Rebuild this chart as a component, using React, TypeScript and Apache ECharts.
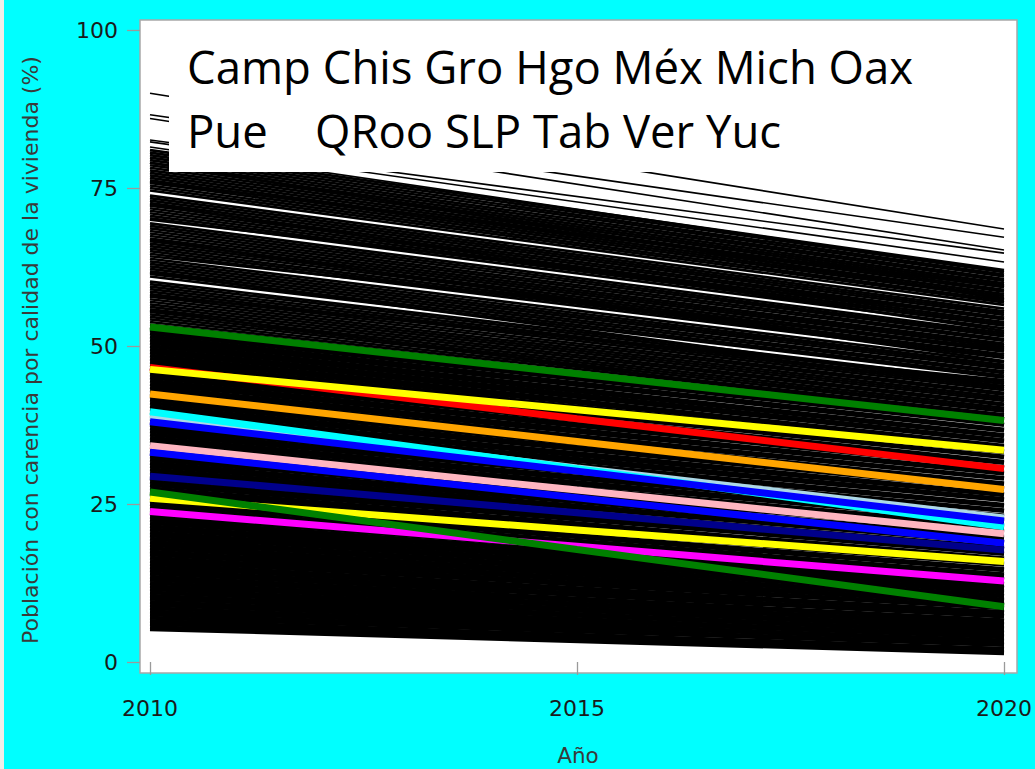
import React, { useEffect, useRef } from "react";
import * as echarts from "echarts";

// ---------- data ----------
const years = [2010, 2015, 2020];
const yTicks = [0, 25, 50, 75, 100];

// highlighted states (thick coloured lines), values at 2010, 2015, 2020
const stateNames = ["Oax", "Pue", "Chis", "Gro", "Hgo", "Ver", "SLP", "Mich", "Tab", "Méx", "Yuc", "Camp", "QRoo"];
const stateColors = ["#008000", "#ffa500", "#ff0000", "#ffff00", "#add8e6", "#00ffff", "#0000ff", "#ffb6c1", "#0000ff", "#00008b", "#ffff00", "#ff00ff", "#008000"];
const stateValues: number[][] = [
  [53.0, 45.6, 38.2],
  [42.4, 34.9, 27.3],
  [46.6, 38.5, 30.6],
  [46.3, 39.9, 33.5],
  [38.9, 30.7, 22.8],
  [39.6, 30.6, 21.4],
  [38.0, 30.2, 22.3],
  [34.2, 27.2, 20.3],
  [33.2, 26.0, 18.8],
  [29.4, 23.6, 17.7],
  [25.9, 20.9, 15.9],
  [23.8, 18.3, 12.8],
  [26.9, 17.8, 8.75],
];

// municipalities (thin black lines), value in 2010 and in 2020
const sparseStart = [90.0, 86.6, 86.0, 82.6, 82.3, 81.5];
const sparseEnd = [68.5, 67.2, 65.2, 64.7, 63.3, 61.8];

const upperStart = [
  81.0, 80.6, 80.2, 79.8, 79.4, 79.0, 78.6, 78.2, 77.8, 77.4, 77.0, 76.6, 76.2, 75.8, 75.4, 75.0, 74.6,
  73.8, 73.4, 73.0, 72.6, 72.2, 71.8, 71.4, 71.0, 70.6, 70.2,
  69.4, 69.0, 68.6, 68.2, 67.8, 67.4, 67.0, 66.6, 66.2, 65.8, 65.4, 65.0, 64.6,
  63.8, 63.4, 63.0, 62.6, 62.2, 61.8, 61.4, 61.0,
  60.2, 59.8, 59.4, 59.0, 58.6, 58.2, 57.8, 57.4, 57.0, 56.6, 56.2, 55.8, 55.4, 55.0, 54.6, 54.2, 53.8, 53.4,
];
const upperEnd = [
  62.0, 61.7, 61.3, 61.0, 60.6, 60.3, 59.9, 59.6, 59.3, 58.9, 58.6, 58.2, 57.9, 57.6, 57.2, 56.9, 56.5,
  55.9, 55.5, 55.2, 54.9, 54.5, 54.2, 53.8, 53.5, 53.2, 52.8,
  52.1, 51.8, 51.5, 51.1, 50.8, 50.4, 50.1, 49.8, 49.4, 49.1, 48.7, 48.4, 48.1,
  47.4, 47.0, 46.7, 46.4, 46.0, 45.7, 45.3, 45.0,
  44.3, 44.0, 43.6, 43.3, 43.0, 42.6, 42.3, 41.9, 41.6, 41.3, 40.9, 40.6, 40.2, 39.9, 39.6, 39.2, 38.9, 38.5,
];

const crossStart = [79.0, 76.0, 72.4, 70.0, 66.8, 64.2, 61.6, 58.0, 55.6];
const crossEnd = [57.4, 59.4, 52.4, 54.4, 47.6, 49.6, 43.6, 44.6, 38.2];

const middleStart = [
  53.0, 52.5, 52.0, 51.5, 51.0, 50.5, 50.0, 49.5, 49.0, 48.5, 48.0, 47.5, 47.0, 46.5, 46.0, 45.5, 45.0, 44.5, 44.0, 43.5,
  43.0, 42.5, 42.0, 41.5, 41.0, 40.5, 40.0, 39.5, 39.0, 38.5, 38.0, 37.5, 37.0, 36.5, 36.0, 35.5, 35.0, 34.5, 34.0, 33.5,
  33.0, 32.5, 32.0, 31.5, 31.0, 30.5, 30.0, 29.5, 29.0, 28.5, 28.0, 27.5, 27.0, 26.5, 26.0, 25.5, 25.0, 24.5,
];
const middleEnd = [
  38.4, 37.6, 37.5, 36.8, 36.6, 35.9, 35.7, 35.1, 34.9, 34.2, 34.0, 33.4, 33.2, 32.5, 32.4, 31.7, 31.5, 30.8, 30.7, 30.0,
  29.8, 29.1, 29.0, 28.3, 28.1, 27.5, 27.3, 26.6, 26.4, 25.8, 25.6, 24.9, 24.7, 24.0, 23.9, 23.2, 23.0, 22.4, 22.2, 21.5,
  21.3, 20.7, 20.5, 19.8, 19.6, 19.0, 18.8, 18.1, 17.9, 17.3, 17.1, 16.4, 16.2, 15.6, 15.4, 14.7, 14.5, 13.9,
];

const lowerStart = [
  24.0, 23.5, 23.0, 22.5, 22.0, 21.5, 21.0, 20.5, 20.0, 19.5, 19.0, 18.5, 18.0, 17.5, 17.0, 16.5, 16.0, 15.5, 15.0, 14.5,
  14.0, 13.5, 13.0, 12.5, 12.0, 11.5, 11.0, 10.5, 10.0, 9.5, 9.0, 8.5, 8.0, 7.5, 7.0, 6.5, 6.0, 5.5, 5.2,
];
const lowerEnd = [
  13.6, 13.1, 13.0, 12.4, 12.3, 11.8, 11.7, 11.2, 11.0, 10.5, 10.4, 9.9, 9.7, 9.2, 9.1, 8.6, 8.5, 7.9, 7.8, 7.3,
  7.2, 6.6, 6.5, 6.0, 5.9, 5.4, 5.2, 4.7, 4.6, 4.1, 3.9, 3.4, 3.3, 2.8, 2.7, 2.1, 2.0, 1.6, 1.4,
];

const legendLine1 = "Camp Chis Gro Hgo Méx Mich Oax";
const legendLine2a = "Pue";
const legendLine2b = "QRoo SLP Tab Ver Yuc";
const xName = "Año";
const yName = "Población con carencia por calidad de la vivienda (%)";

function pairs(a: number[], b: number[]) {
  const n = Math.min(a.length, b.length);
  const out: { coords: number[][] }[] = [];
  for (let i = 0; i < n; i++) out.push({ coords: [[years[0], a[i]], [years[2], b[i]]] });
  return out;
}

export default function App() {
  const ref = useRef<HTMLDivElement>(null);
  useEffect(() => {
    if (!ref.current) return;
    const chart = echarts.init(ref.current, undefined, { renderer: "svg" });
    const upperData = [...pairs(upperStart, upperEnd), ...pairs(crossStart, crossEnd)];
    const solidData = [...pairs(middleStart, middleEnd), ...pairs(lowerStart, lowerEnd)];
    const tickStyle = { color: "#9a9a9a", width: 1.3 };
    const labelFont = { fontSize: 22, fontFamily: "DejaVu Sans", color: "#1a1a1a" };
    chart.setOption({
      animation: false,
      backgroundColor: "#00ffff",
      grid: { left: 150, right: 30, top: 30, bottom: 107, containLabel: false },
      xAxis: {
        type: "value",
        min: 2010,
        max: 2020,
        interval: 5,
        offset: 11,
        axisLine: { show: false },
        axisTick: { show: true, length: 13, lineStyle: tickStyle },
        axisLabel: { ...labelFont, margin: 24, showMaxLabel: true, showMinLabel: true, formatter: (v: number) => String(v) },
        splitLine: { show: false },
      },
      yAxis: {
        type: "value",
        min: 0,
        max: 100,
        interval: 25,
        offset: 10,
        axisLine: { show: false },
        axisTick: { show: true, length: 13, lineStyle: tickStyle },
        axisLabel: { ...labelFont, margin: 22, formatter: (v: number) => (yTicks.includes(v) ? String(v) : "") },
        splitLine: { show: false },
      },
      graphic: [
        { type: "rect", z: -10, silent: true, shape: { x: 0, y: 0, width: 4, height: 769 }, style: { fill: "#f1eee8" } },
        {
          type: "rect", z: -10, silent: true,
          shape: { x: 140, y: 20, width: 877, height: 653 },
          style: { fill: "#ffffff", stroke: "#a8a8a8", lineWidth: 1.5 },
        },
        { type: "rect", z: 100, silent: true, shape: { x: 169, y: 21, width: 847, height: 151 }, style: { fill: "#ffffff" } },
        {
          type: "text", z: 101, x: 187, y: 66,
          style: { text: legendLine1, fontSize: 45.5, fontFamily: "Open Sans", fill: "#000", align: "left", verticalAlign: "middle" },
        },
        {
          type: "text", z: 101, x: 187, y: 130,
          style: { text: legendLine2a, fontSize: 45.5, fontFamily: "Open Sans", fill: "#000", align: "left", verticalAlign: "middle" },
        },
        {
          type: "text", z: 101, x: 315, y: 130,
          style: { text: legendLine2b, fontSize: 45.5, fontFamily: "Open Sans", fill: "#000", align: "left", verticalAlign: "middle" },
        },
        {
          type: "text", x: 578, y: 755,
          style: { text: xName, fontSize: 21.5, fontFamily: "DejaVu Sans", fill: "#3a3a3a", align: "center", verticalAlign: "middle" },
        },
        {
          type: "text", x: 30, y: 350, rotation: Math.PI / 2,
          style: { text: yName, fontSize: 22, fontFamily: "DejaVu Sans", fill: "#3a3a3a", align: "center", verticalAlign: "middle" },
        },
      ],
      series: [
        {
          type: "lines", coordinateSystem: "cartesian2d", silent: true, z: 2,
          lineStyle: { color: "#000", width: 1.6, opacity: 1, curveness: 0 },
          data: pairs(sparseStart, sparseEnd),
        },
        {
          type: "lines", coordinateSystem: "cartesian2d", silent: true, z: 2,
          lineStyle: { color: "#000", width: 2.7, opacity: 1, curveness: 0 },
          data: upperData,
        },
        {
          type: "lines", coordinateSystem: "cartesian2d", silent: true, z: 2,
          lineStyle: { color: "#000", width: 4, opacity: 1, curveness: 0 },
          data: solidData,
        },
        ...stateNames.map((name, i) => ({
          type: "line",
          name,
          z: 3,
          silent: true,
          symbol: "none",
          lineStyle: { color: stateColors[i], width: 7 },
          itemStyle: { color: stateColors[i] },
          data: years.map((y, j) => [y, stateValues[i][j]]),
        })),
      ],
    });
    return () => chart.dispose();
  }, []);
  return <div ref={ref} style={{ position: "fixed", left: 0, top: 0, width: 1035, height: 769 }} />;
}
